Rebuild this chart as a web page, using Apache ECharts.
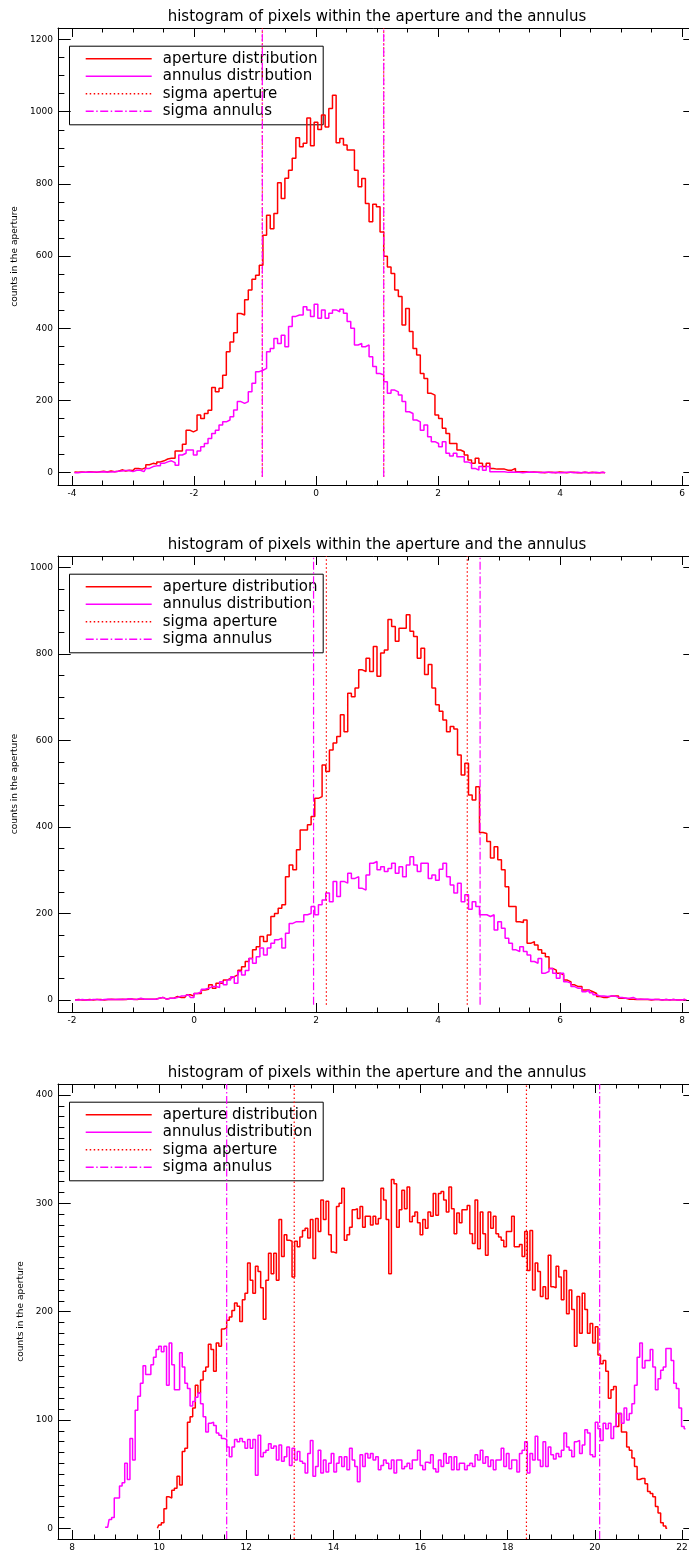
<!DOCTYPE html>
<html>
<head>
<meta charset="utf-8">
<title>histogram of pixels within the aperture and the annulus</title>
<script src="https://cdn.jsdelivr.net/npm/echarts@6.0.0/dist/echarts.min.js"></script>
<style>
  html, body { margin: 0; padding: 0; background: #fff; }
  #chart { width: 689px; height: 1553px; }
</style>
</head>
<body>
<div id="chart"></div>
<script>
// ---- data: panel 1 (bins of 0.06 starting at -3.96) ----
var p1Start = -3.96
var p1Bin = 0.06
var p1Aperture = [2, 1, 2, 1, 3, 2, 1, 3, 4, 2,
  5, 3, 4, 8, 5, 7, 6, 12, 10, 14,
  22, 26, 24, 30, 33, 38, 40, 40, 60, 60,
  79, 118, 113, 118, 160, 150, 164, 173, 236, 224,
  234, 270, 335, 362, 388, 441, 437, 479, 506, 536,
  547, 575, 658, 713, 676, 718, 803, 760, 816, 838,
  871, 928, 903, 913, 983, 906, 971, 951, 991, 958,
  1009, 1046, 914, 926, 908, 894, 894, 838, 792, 815,
  746, 695, 744, 737, 667, 600, 570, 552, 506, 488,
  409, 455, 391, 344, 326, 275, 261, 220, 215, 160,
  150, 123, 109, 81, 81, 63, 58, 49, 35, 26,
  40, 26, 17, 26, 12, 10, 10, 10, 7, 7,
  12, 3, 3, 3, 1, 2, 1, 1, 0, 1,
  1, 0, 2, 1, 0, 1, 1, 0, 0, 1,
  0, 1, 0, 0, 1, 0]
var p1Annulus = [0, 0, 1, 1, 2, 1, 2, 2, 3, 2,
  2, 3, 4, 5, 6, 6, 3, 7, 7, 3,
  12, 17, 19, 19, 26, 30, 33, 28, 21, 49,
  54, 63, 63, 49, 60, 72, 81, 95, 109, 118,
  132, 141, 146, 155, 174, 197, 192, 197, 224, 248,
  280, 284, 289, 335, 344, 372, 358, 381, 349, 405,
  433, 437, 437, 460, 451, 433, 467, 428, 451, 428,
  442, 451, 446, 453, 442, 419, 400, 354, 358, 349,
  354, 321, 294, 275, 271, 252, 220, 229, 224, 215,
  197, 169, 164, 146, 141, 118, 132, 100, 86, 81,
  72, 86, 54, 46, 54, 44, 44, 30, 26, 12,
  7, 17, 7, 17, 3, 3, 3, 3, 1, 2,
  1, 1, 0, 1, 2, 1, 1, 0, 1, 1,
  0, 1, 0, 0, 1, 1, 0, 1, 0, 1,
  0, 0, 1, 0, 1, 0]
var p1SigmaAperture = [-0.88, 1.11]
var p1SigmaAnnulus = [-0.88, 1.11]
var p1XTicks = [-4, -2, 0, 2, 4, 6]
var p1XMinor = [-3.5, -3, -2.5, -1.5, -1, -0.5, 0.5, 1, 1.5, 2.5, 3, 3.5, 4.5, 5, 5.5]
var p1YTicks = [0, 200, 400, 600, 800, 1000, 1200]
var p1YMinor = [50, 100, 150, 250, 300, 350, 450, 500, 550, 650, 700, 750, 850, 900, 950, 1050, 1100, 1150]

// ---- data: panel 2 (bins of 0.06 starting at -1.95) ----
var p2Start = -1.95
var p2Bin = 0.06
var p2Aperture = [0, 1, 0, 0, 1, 0, 1, 1, 0, 1,
  2, 1, 1, 2, 1, 3, 2, 1, 3, 2,
  2, 2, 2, 4, 6, 2, 4, 4, 8, 6,
  6, 12, 9, 15, 15, 23, 25, 35, 27, 39,
  39, 46, 50, 54, 58, 69, 77, 89, 96, 116,
  123, 147, 135, 150, 193, 200, 212, 220, 285, 312,
  301, 347, 393, 393, 405, 424, 466, 470, 543, 528,
  578, 594, 609, 659, 620, 709, 701, 721, 763, 759,
  790, 759, 817, 748, 802, 809, 879, 863, 829, 859,
  859, 890, 852, 840, 790, 813, 752, 775, 721, 682,
  667, 647, 620, 632, 626, 566, 520, 547, 474, 462,
  493, 387, 385, 366, 328, 354, 324, 301, 262, 216,
  216, 181, 179, 185, 131, 135, 127, 116, 108, 100,
  73, 69, 62, 58, 46, 42, 35, 31, 31, 23,
  23, 19, 15, 8, 6, 6, 9, 9, 9, 4,
  4, 2, 2, 1, 2, 1, 1, 0, 1, 1,
  0, 1, 0, 1, 0, 0, 1, 0]
var p2Annulus = [0, 0, 1, 0, 0, 1, 1, 0, 1, 2,
  1, 1, 2, 1, 2, 3, 1, 2, 4, 2,
  2, 2, 2, 4, 6, 2, 4, 4, 6, 9,
  10, 12, 6, 15, 19, 25, 27, 31, 31, 29,
  42, 35, 46, 54, 39, 66, 58, 68, 96, 85,
  100, 120, 104, 120, 131, 139, 143, 120, 154, 177,
  181, 181, 181, 197, 200, 216, 197, 220, 231, 247,
  227, 274, 239, 274, 270, 293, 281, 285, 258, 254,
  289, 316, 320, 301, 308, 297, 304, 316, 293, 308,
  285, 312, 331, 312, 297, 316, 316, 281, 289, 277,
  302, 316, 285, 266, 247, 270, 227, 243, 210, 227,
  216, 197, 197, 193, 197, 162, 181, 166, 143, 131,
  116, 112, 123, 112, 104, 89, 85, 96, 62, 66,
  73, 62, 50, 62, 42, 39, 31, 27, 27, 19,
  23, 17, 12, 9, 9, 8, 9, 9, 6, 6,
  4, 4, 6, 2, 2, 2, 2, 1, 1, 1,
  0, 1, 0, 1, 0, 0, 1, 0]
var p2SigmaAperture = [2.17, 4.48]
var p2SigmaAnnulus = [1.96, 4.69]
var p2XTicks = [-2, 0, 2, 4, 6, 8]
var p2XMinor = [-1.5, -1, -0.5, 0.5, 1, 1.5, 2.5, 3, 3.5, 4.5, 5, 5.5, 6.5, 7, 7.5]
var p2YTicks = [0, 200, 400, 600, 800, 1000]
var p2YMinor = [50, 100, 150, 250, 300, 350, 450, 500, 550, 650, 700, 750, 850, 900, 950]

// ---- data: panel 3 (bins of 0.06; annulus from 8.76, aperture from 9.96) ----
var p3Bin = 0.06
var p3AnnulusStart = 8.76
var p3ApertureStart = 9.96
var p3Aperture = [0, 3, 5, 18, 29, 28, 35, 37, 48, 40, 71,
  74, 98, 103, 111, 132, 125, 137, 145, 149, 170,
  165, 145, 171, 168, 184, 185, 192, 195, 201, 208,
  205, 191, 211, 217, 245, 229, 217, 242, 237, 222,
  193, 229, 254, 235, 254, 229, 285, 251, 271, 266,
  265, 232, 265, 260, 269, 275, 277, 268, 285, 249,
  286, 274, 303, 285, 302, 271, 255, 254, 297, 300,
  314, 266, 271, 278, 294, 295, 286, 297, 278, 288,
  288, 280, 288, 281, 286, 314, 303, 285, 235, 322,
  318, 278,
  294, 312, 295, 315, 283, 288, 292, 282, 271, 285,
  277, 292, 288, 309, 289, 309, 311, 303, 292, 315,
  295, 272, 291, 282, 294, 294, 298, 272, 263, 303,
  258, 292, 272, 252, 292, 277, 288, 272, 269, 266,
  260, 274, 274, 288, 260, 260, 262, 251, 274, 238,
  275, 220, 245, 237, 214, 223, 212, 252, 223, 222,
  242, 232, 211, 238, 198, 220, 202, 168, 214, 180,
  217, 202, 180, 189, 171, 186, 160, 152, 155, 145,
  120, 128, 131, 94, 106, 89, 89, 75, 72, 65,
  57, 45, 46, 46, 41, 34, 32, 29, 20, 14, 5, 2, 0]
var p3Annulus = [1, 1, 8, 10, 28, 28, 39, 42, 60, 45,
  83, 63, 109, 122, 134, 150, 142, 142, 151, 158,
  165, 168, 163, 168, 132, 171, 151, 128, 128, 162,
  149, 134, 129, 113, 117, 121, 125, 115, 103, 89,
  97, 98, 95, 88, 86, 83, 82, 75, 66, 75,
  82, 80, 83, 80, 74, 82, 74, 82,
  49, 86, 66, 70, 72, 78, 74, 76, 63, 77,
  62, 66, 75, 58, 74, 63, 71, 62, 60, 51,
  69, 81, 48, 57, 72, 51, 63, 52, 60, 69,
  52, 60, 66, 57, 66, 54, 74, 63, 57, 43,
  68, 57, 69, 65, 69, 63, 66, 54, 58, 63,
  60, 55, 63, 51, 63,
  63, 55, 57, 60, 55, 63, 63, 72, 58, 54,
  61, 60, 68, 55, 52, 63, 57, 69, 60, 66,
  54, 66, 54, 60, 60, 54, 58, 60, 57, 68,
  63, 72, 60, 66, 57, 63, 54, 63, 63, 74,
  57, 69, 55, 63, 63, 52, 69, 72, 80, 51,
  69, 63, 85, 63, 57, 80, 57, 75, 68, 64,
  69, 66, 72, 88, 75, 72, 66, 80, 81, 69,
  77, 91, 88, 68, 66, 98, 92, 81, 97, 92,
  97, 83, 94, 106, 106, 97, 111, 100, 106, 115,
  132, 158, 171, 148, 155, 155, 165, 149, 128, 138,
  146, 149, 166, 166, 155, 134, 129, 111, 94, 92]
var p3SigmaAperture = [13.10, 18.43]
var p3SigmaAnnulus = [11.55, 20.11]
var p3XTicks = [8, 10, 12, 14, 16, 18, 20, 22]
var p3XMinor = [8.5, 9, 9.5, 10.5, 11, 11.5, 12.5, 13, 13.5, 14.5, 15, 15.5,
  16.5, 17, 17.5, 18.5, 19, 19.5, 20.5, 21, 21.5]
var p3YTicks = [0, 100, 200, 300, 400]
var p3YMinor = [10, 20, 30, 40, 50, 60, 70, 80, 90, 110, 120, 130, 140, 150, 160, 170, 180, 190,
  210, 220, 230, 240, 250, 260, 270, 280, 290, 310, 320, 330, 340, 350, 360, 370, 380, 390]

var titleText = 'histogram of pixels within the aperture and the annulus'
var yName = 'counts in the aperture'
var legendNames = ['aperture distribution', 'annulus distribution', 'sigma aperture', 'sigma annulus']

// ---- layout / styles ----
var RED = '#ff0000'
var MAGENTA = '#ff00ff'
var DOT = [1.5, 2.5]
var DASHDOT = [8, 2.5, 1.5, 2.5]
var FONT = '"DejaVu Sans", sans-serif'
var gridLeft = 58
var gridWidth = 638 // the right frame sits just past the page edge, as in the original

var panels = [
  { top: 28, height: 457, x: [-4.2295, 6.2295], y: [-34, 1232], sigBottom: -11,
    xMajor: p1XTicks, xMinor: p1XMinor, yMajor: p1YTicks, yMinor: p1YMinor,
    ap: p1Aperture, apStart: p1Start, an: p1Annulus, anStart: p1Start, bin: p1Bin,
    sigAp: p1SigmaAperture, sigAn: p1SigmaAnnulus },
  { top: 556, height: 456, x: [-2.2295, 8.2295], y: [-27.7, 1026], sigBottom: -11,
    xMajor: p2XTicks, xMinor: p2XMinor, yMajor: p2YTicks, yMinor: p2YMinor,
    ap: p2Aperture, apStart: p2Start, an: p2Annulus, anStart: p2Start, bin: p2Bin,
    sigAp: p2SigmaAperture, sigAn: p2SigmaAnnulus },
  { top: 1084, height: 455, x: [7.6787, 22.3213], y: [-9.9, 410.2], sigBottom: -9.9,
    xMajor: p3XTicks, xMinor: p3XMinor, yMajor: p3YTicks, yMinor: p3YMinor,
    ap: p3Aperture, apStart: p3ApertureStart, an: p3Annulus, anStart: p3AnnulusStart, bin: p3Bin,
    sigAp: p3SigmaAperture, sigAn: p3SigmaAnnulus }
]

function pairs (start, bin, counts) {
  return counts.map(function (c, i) { return [+(start + i * bin).toFixed(4), c] })
}

function plain (v) {
  return String(Math.round(v * 100) / 100)
}

function axis (p, pos, range, ticks, len, extra) {
  var a = {
    gridIndex: p,
    type: 'value',
    position: pos,
    min: range[0],
    max: range[1],
    axisLine: { show: true, onZero: false, lineStyle: { color: '#000', width: 1 } },
    axisTick: { show: true, inside: true, length: len, customValues: ticks, lineStyle: { color: '#000', width: 1 } },
    axisLabel: { show: false },
    splitLine: { show: false },
    silent: true
  }
  return Object.assign(a, extra || {})
}

var grids = []
var xAxes = []
var yAxes = []
var series = []
var graphics = []
var noLine = { axisLine: { show: false, onZero: false } }

panels.forEach(function (pn, p) {
  grids.push({ left: gridLeft, top: pn.top, width: gridWidth, height: pn.height, outerBoundsMode: 'none', containLabel: false })

  var xLabel = { show: true, customValues: pn.xMajor, margin: 4, color: '#000', fontSize: 9, fontFamily: FONT, formatter: plain }
  var yLabel = { show: true, customValues: pn.yMajor, margin: 5, color: '#000', fontSize: 9, fontFamily: FONT, formatter: plain }

  // x axes: bottom major / bottom minor / top major / top minor
  xAxes.push(axis(p, 'bottom', pn.x, pn.xMajor, 9, { axisLabel: xLabel }))
  xAxes.push(axis(p, 'bottom', pn.x, pn.xMinor, 4.5, noLine))
  xAxes.push(axis(p, 'top', pn.x, pn.xMajor, 9))
  xAxes.push(axis(p, 'top', pn.x, pn.xMinor, 4.5, noLine))
  // y axes: left major / left minor / right major / right minor
  yAxes.push(axis(p, 'left', pn.y, pn.yMajor, 12.7, {
    axisLabel: yLabel,
    name: yName,
    nameLocation: 'middle',
    nameGap: 33,
    nameRotate: 90,
    nameTextStyle: { color: '#000', fontSize: 9, fontFamily: FONT }
  }))
  yAxes.push(axis(p, 'left', pn.y, pn.yMinor, 6.4, noLine))
  yAxes.push(axis(p, 'right', pn.y, pn.yMajor, 12.7))
  yAxes.push(axis(p, 'right', pn.y, pn.yMinor, 6.4, noLine))

  var xi = p * 4
  var yi = p * 4
  function hist (data, color, z) {
    return {
      type: 'line', xAxisIndex: xi, yAxisIndex: yi, step: 'middle',
      symbol: 'none', showSymbol: false, silent: true, z: z,
      lineStyle: { color: color, width: 1.5 }, itemStyle: { color: color },
      data: data
    }
  }
  series.push(hist(pairs(pn.apStart, pn.bin, pn.ap), RED, 2))
  series.push(hist(pairs(pn.anStart, pn.bin, pn.an), MAGENTA, 3))

  function vline (xv, color, dash, z) {
    return {
      type: 'line', xAxisIndex: xi, yAxisIndex: yi, symbol: 'none', silent: true, z: z,
      lineStyle: { color: color, width: 1.2, type: dash },
      data: [[xv, pn.sigBottom], [xv, pn.y[1]]]
    }
  }
  pn.sigAp.forEach(function (s) { series.push(vline(s, RED, DOT, 4)) })
  pn.sigAn.forEach(function (s) { series.push(vline(s, MAGENTA, DASHDOT, 5)) })

  // title
  graphics.push({
    type: 'text', x: gridLeft + gridWidth / 2, y: pn.top - 10.7, silent: true,
    style: { text: titleText, font: '15px ' + FONT, fill: '#000', align: 'center', verticalAlign: 'middle' }
  })

  // legend box
  var rows = [13, 30.5, 48, 65.5]
  var legendStyles = [
    { stroke: RED, lineDash: null },
    { stroke: MAGENTA, lineDash: null },
    { stroke: RED, lineDash: DOT },
    { stroke: MAGENTA, lineDash: DASHDOT }
  ]
  var children = [{
    type: 'rect', shape: { x: 0.5, y: 0.5, width: 253.7, height: 78.6 },
    style: { fill: 'none', stroke: '#000', lineWidth: 1 }
  }]
  legendNames.forEach(function (name, k) {
    children.push({
      type: 'line', shape: { x1: 16.7, y1: rows[k], x2: 82.7, y2: rows[k] },
      style: { stroke: legendStyles[k].stroke, lineWidth: 1.5, lineDash: legendStyles[k].lineDash }
    })
    children.push({
      type: 'text', x: 93.7, y: rows[k],
      style: { text: name, font: '15px ' + FONT, fill: '#000', verticalAlign: 'middle' }
    })
  })
  graphics.push({ type: 'group', x: 69, y: pn.top + 17.7, silent: true, children: children })
})

var chart = echarts.init(document.getElementById('chart'), null, { renderer: 'canvas' })
chart.setOption({
  animation: false,
  backgroundColor: '#fff',
  grid: grids,
  xAxis: xAxes,
  yAxis: yAxes,
  series: series,
  graphic: graphics
})
</script>
</body>
</html>
